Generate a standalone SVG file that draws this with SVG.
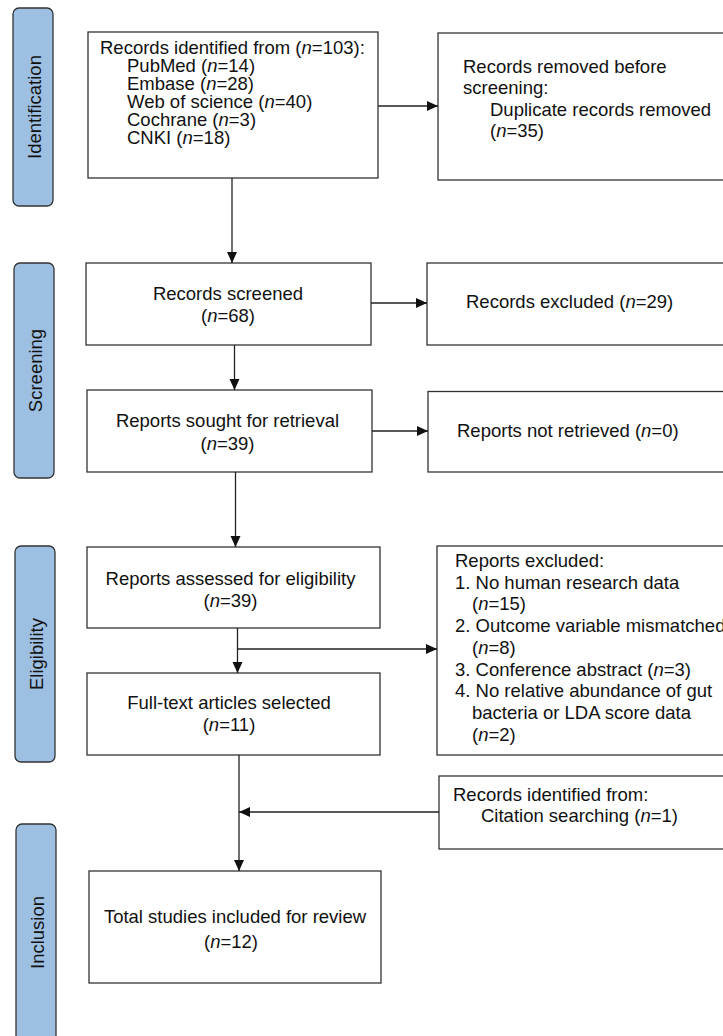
<svg xmlns="http://www.w3.org/2000/svg" width="723" height="1036" viewBox="0 0 723 1036">
  <style>
    text { font-family: "Liberation Sans", Arial, sans-serif; font-size: 18.5px; fill: #111; }
    .c { text-anchor: middle; }
    .i { font-style: italic; }
    .box { fill: #ffffff; stroke: #333333; stroke-width: 1.3; }
    .side { fill: #9dbfe2; stroke: #333333; stroke-width: 1.3; }
    .ln { fill: none; stroke: #222222; stroke-width: 1.3; }
  </style>
  <defs>
    <marker id="ah" markerUnits="userSpaceOnUse" markerWidth="12" markerHeight="12" viewBox="0 0 12 12" refX="11" refY="6" orient="auto">
      <path d="M0,1 L11,6 L0,11 Z" fill="#111"/>
    </marker>
  </defs>
  <rect width="723" height="1036" fill="#ffffff"/>

  <g id="side-identification">
    <rect class="side" x="13" y="8" width="40" height="198" rx="6"/>
    <text class="c" transform="translate(40.5,107) rotate(-90)">Identification</text>
  </g>
  <g id="side-screening">
    <rect class="side" x="14" y="263" width="40" height="215" rx="6"/>
    <text class="c" transform="translate(41.5,370.5) rotate(-90)">Screening</text>
  </g>
  <g id="side-eligibility">
    <rect class="side" x="15" y="546" width="40" height="216" rx="6"/>
    <text class="c" transform="translate(42.5,654) rotate(-90)">Eligibility</text>
  </g>
  <g id="side-inclusion">
    <rect class="side" x="16" y="824" width="40" height="220" rx="6"/>
    <text class="c" transform="translate(43.5,932.5) rotate(-90)">Inclusion</text>
  </g>

  <g id="n-identified">
    <rect class="box" x="88" y="32" width="290" height="146"/>
    <text x="100" y="54">Records identified from (<tspan class="i">n</tspan>=103):</text>
    <text x="127" y="72">PubMed (<tspan class="i">n</tspan>=14)</text>
    <text x="127" y="90">Embase (<tspan class="i">n</tspan>=28)</text>
    <text x="127" y="108">Web of science (<tspan class="i">n</tspan>=40)</text>
    <text x="127" y="126">Cochrane (<tspan class="i">n</tspan>=3)</text>
    <text x="127" y="144">CNKI (<tspan class="i">n</tspan>=18)</text>
  </g>
  <g id="n-removed">
    <rect class="box" x="438" y="33" width="300" height="147"/>
    <text x="463" y="72.5">Records removed before</text>
    <text x="463" y="94">screening:</text>
    <text x="490" y="115.5">Duplicate records removed</text>
    <text x="490" y="137">(<tspan class="i">n</tspan>=35)</text>
  </g>
  <g id="n-screened">
    <rect class="box" x="86" y="263" width="285" height="82"/>
    <text class="c" x="228" y="299.5">Records screened</text>
    <text class="c" x="228" y="321.5">(<tspan class="i">n</tspan>=68)</text>
  </g>
  <g id="n-excluded">
    <rect class="box" x="427" y="263" width="310" height="82"/>
    <text x="466" y="308">Records excluded (<tspan class="i">n</tspan>=29)</text>
  </g>
  <g id="n-sought">
    <rect class="box" x="87" y="390" width="285" height="82"/>
    <text class="c" x="227.5" y="427">Reports sought for retrieval</text>
    <text class="c" x="227.5" y="449.5">(<tspan class="i">n</tspan>=39)</text>
  </g>
  <g id="n-notretrieved">
    <rect class="box" x="428" y="391.5" width="310" height="80.5"/>
    <text x="457" y="437">Reports not retrieved (<tspan class="i">n</tspan>=0)</text>
  </g>
  <g id="n-assessed">
    <rect class="box" x="87" y="547" width="293" height="81"/>
    <text class="c" x="230.5" y="585">Reports assessed for eligibility</text>
    <text class="c" x="230.5" y="607">(<tspan class="i">n</tspan>=39)</text>
  </g>
  <g id="n-reports-excluded">
    <rect class="box" x="437" y="546" width="300" height="209"/>
    <text x="455" y="567">Reports excluded:</text>
    <text x="455" y="588.7">1. No human research data</text>
    <text x="472" y="610.4">(<tspan class="i">n</tspan>=15)</text>
    <text x="455" y="632.1">2. Outcome variable mismatched</text>
    <text x="472" y="653.8">(<tspan class="i">n</tspan>=8)</text>
    <text x="455" y="675.5">3. Conference abstract (<tspan class="i">n</tspan>=3)</text>
    <text x="455" y="697.2">4. No relative abundance of gut</text>
    <text x="472" y="718.9">bacteria or LDA score data</text>
    <text x="472" y="740.6">(<tspan class="i">n</tspan>=2)</text>
  </g>
  <g id="n-fulltext">
    <rect class="box" x="87" y="673" width="293" height="82"/>
    <text class="c" x="229" y="709">Full-text articles selected</text>
    <text class="c" x="229" y="730.5">(<tspan class="i">n</tspan>=11)</text>
  </g>
  <g id="n-citation">
    <rect class="box" x="439" y="776" width="300" height="73"/>
    <text x="453" y="800.7">Records identified from:</text>
    <text x="481" y="821.7">Citation searching (<tspan class="i">n</tspan>=1)</text>
  </g>
  <g id="n-total">
    <rect class="box" x="89" y="871" width="292" height="112"/>
    <text class="c" x="235" y="923">Total studies included for review</text>
    <text class="c" x="231" y="948">(<tspan class="i">n</tspan>=12)</text>
  </g>

  <g id="connectors">
    <line class="ln" x1="378" y1="106" x2="438" y2="106" marker-end="url(#ah)"/>
    <line class="ln" x1="232" y1="178" x2="232" y2="263" marker-end="url(#ah)"/>
    <line class="ln" x1="371" y1="303" x2="427" y2="303" marker-end="url(#ah)"/>
    <line class="ln" x1="234.5" y1="345" x2="234.5" y2="390" marker-end="url(#ah)"/>
    <line class="ln" x1="372" y1="431" x2="428" y2="431" marker-end="url(#ah)"/>
    <line class="ln" x1="235.5" y1="472" x2="235.5" y2="547" marker-end="url(#ah)"/>
    <line class="ln" x1="237.5" y1="628" x2="237.5" y2="673" marker-end="url(#ah)"/>
    <line class="ln" x1="237.5" y1="649" x2="437" y2="649" marker-end="url(#ah)"/>
    <line class="ln" x1="239" y1="755" x2="239" y2="871" marker-end="url(#ah)"/>
    <line class="ln" x1="439" y1="812" x2="239" y2="812" marker-end="url(#ah)"/>
  </g>
</svg>
